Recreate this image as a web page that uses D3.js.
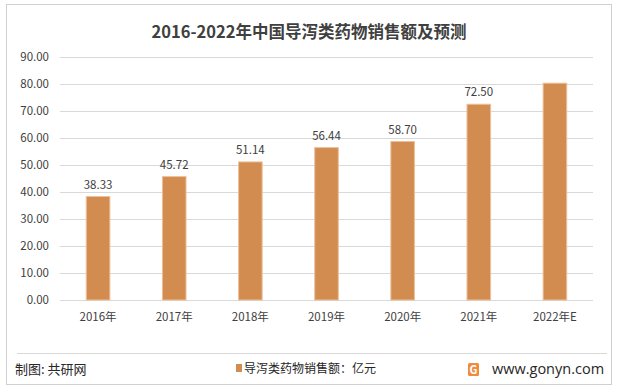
<!DOCTYPE html>
<meta charset="utf-8">
<body style="margin:0;background:#fff">
<script src="https://d3js.org/d3.v7.min.js"></script>
<script>
var years = ["2016年", "2017年", "2018年", "2019年", "2020年", "2021年", "2022年E"];
var sales = [38.33, 45.72, 51.14, 56.44, 58.70, 72.50, 80.30];
var showLabel = [true, true, true, true, true, true, false];
var yTicks = [0, 10, 20, 30, 40, 50, 60, 70, 80, 90];

var width = 618, height = 392;
var font = "'Noto Sans CJK SC', 'Open Sans', sans-serif";

var svg = d3.select("body").append("svg")
    .attr("width", width)
    .attr("height", height)
    .style("font-family", font);

// outer frame
svg.append("rect")
    .attr("x", 6.5).attr("y", 4.5)
    .attr("width", 605).attr("height", 380)
    .attr("fill", "#fff")
    .attr("stroke", "#d0d0d0");

svg.append("text")
    .attr("x", 309).attr("y", 38)
    .attr("text-anchor", "middle")
    .attr("font-size", 16.5)
    .attr("font-weight", "bold")
    .attr("fill", "#404040")
    .text("2016-2022年中国导泻类药物销售额及预测");

var x = d3.scaleBand()
    .domain(years)
    .range([60, 593])
    .paddingInner(0.69)
    .paddingOuter(0.345);

var y = d3.scaleLinear()
    .domain([0, 90])
    .range([300, 57]);

// gridlines
svg.append("g")
  .selectAll("line")
  .data(yTicks)
  .enter()
  .append("line")
    .attr("x1", 60).attr("x2", 593)
    .attr("y1", function(d) { return Math.round(y(d)) + 0.5; })
    .attr("y2", function(d) { return Math.round(y(d)) + 0.5; })
    .attr("stroke", "#d9d9d9");

var yAxis = svg.append("g")
    .attr("transform", "translate(60,0)")
    .call(d3.axisLeft(y).tickValues(yTicks).tickFormat(d3.format(".2f")).tickSize(0).tickPadding(11));
yAxis.select(".domain").remove();
yAxis.selectAll("text")
    .attr("font-size", 11.5)
    .attr("font-family", font)
    .attr("fill", "#404040");

var xAxis = svg.append("g")
    .attr("transform", "translate(0,300)")
    .call(d3.axisBottom(x).tickSize(0).tickPadding(13));
xAxis.select(".domain").remove();
xAxis.selectAll("text")
    .attr("font-size", 11.5)
    .attr("font-family", font)
    .attr("fill", "#404040");

svg.append("g")
  .selectAll("rect")
  .data(sales)
  .enter()
  .append("rect")
    .attr("x", function(d, i) { return x(years[i]); })
    .attr("y", function(d) { return y(d); })
    .attr("width", x.bandwidth())
    .attr("height", function(d) { return y(0) - y(d); })
    .attr("fill", "#d38c4f")
    .attr("stroke", "#ecc09a")
    .attr("stroke-width", 1);

svg.append("g")
  .selectAll("text")
  .data(sales)
  .enter()
  .filter(function(d, i) { return showLabel[i]; })
  .append("text")
    .attr("x", function(d, i) { return x(years[i]) + x.bandwidth() / 2; })
    .attr("y", function(d) { return y(d) - 8; })
    .attr("text-anchor", "middle")
    .attr("font-size", 11.5)
    .attr("fill", "#404040")
    .text(function(d) { return d.toFixed(2); });

// footer
svg.append("line")
    .attr("x1", 17).attr("x2", 607)
    .attr("y1", 353.5).attr("y2", 353.5)
    .attr("stroke", "#d9d9d9");

svg.append("text")
    .attr("x", 15).attr("y", 374)
    .attr("font-size", 13)
    .attr("fill", "#262626")
    .text("制图: 共研网");

svg.append("rect")
    .attr("x", 236).attr("y", 364)
    .attr("width", 6).attr("height", 8)
    .attr("fill", "#d38c4f");
svg.append("text")
    .attr("x", 244).attr("y", 373)
    .attr("font-size", 12)
    .attr("fill", "#262626")
    .text("导泻类药物销售额：亿元");

// logo
var logo = svg.append("g").attr("transform", "translate(468,363)");
logo.append("rect").attr("width", 11).attr("height", 13).attr("rx", 1.5).attr("fill", "#f08a3c");
logo.append("text").attr("x", 5.5).attr("y", 11).attr("text-anchor", "middle")
    .attr("font-size", 11).attr("font-weight", "bold").attr("fill", "#fff").text("G");

svg.append("text")
    .attr("x", 492).attr("y", 374)
    .attr("font-size", 14.5)
    .attr("font-family", "'Open Sans', sans-serif")
    .attr("fill", "#262626")
    .text("www.gonyn.com");
</script>
</body>
